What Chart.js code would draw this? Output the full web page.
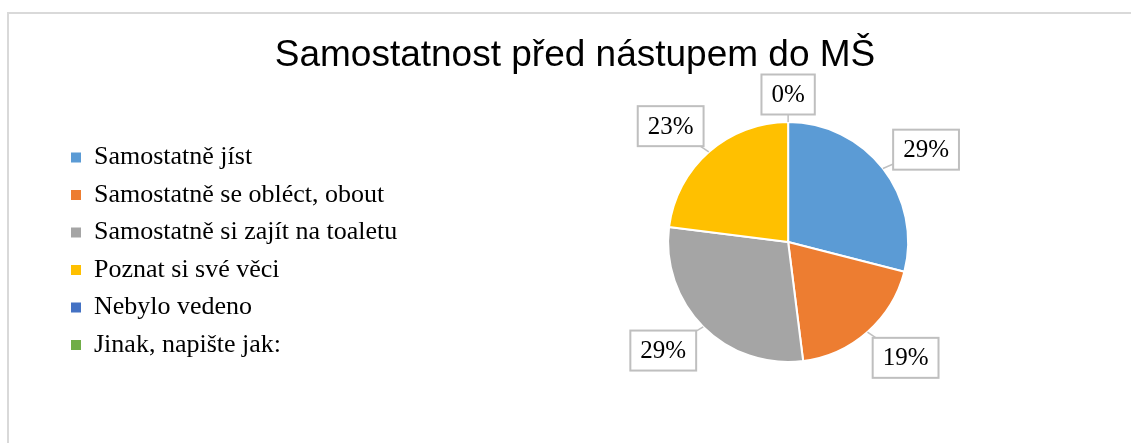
<!DOCTYPE html>
<html>
<head>
<meta charset="utf-8">
<script src="https://cdn.jsdelivr.net/npm/chart.js@4"></script>
<style>
  body { margin: 0; background: #fff; overflow: hidden; }
  #frame { position: absolute; left: 7px; top: 12px; width: 1200px; height: 500px;
           border-left: 2px solid #d9d9d9; border-top: 2px solid #d9d9d9; }
  #chart { position: absolute; left: 0; top: 0; }
</style>
</head>
<body>
<div id="frame"></div>
<canvas id="chart" width="1131" height="443"></canvas>
<script>
const title = 'Samostatnost před nástupem do MŠ';
const labels = [
  'Samostatně jíst',
  'Samostatně se obléct, obout',
  'Samostatně si zajít na toaletu',
  'Poznat si své věci',
  'Nebylo vedeno',
  'Jinak, napište jak:'
];
// percent of answers
const values = [29, 19, 29, 23, 0, null];
const colors = ['#5b9bd5', '#ed7d31', '#a5a5a5', '#ffc000', '#4472c4', '#70ad47'];

// boxed percentage labels just outside each slice
const calloutLabels = {
  id: 'calloutLabels',
  afterDatasetsDraw(chart) {
    const ctx = chart.ctx;
    const meta = chart.getDatasetMeta(0);
    ctx.save();
    ctx.font = '25px "Liberation Serif"';
    meta.data.forEach((arc, i) => {
      const v = values[i];
      if (v === null) return;
      const p = arc.getProps(['x', 'y', 'startAngle', 'endAngle', 'outerRadius'], true);
      let mid = (p.startAngle + p.endAngle) / 2;
      // nudge labels a little toward the horizontal, like excel does
      const c = Math.cos(mid), s = Math.sin(mid);
      if (Math.abs(c) > 0.01) mid -= Math.sign(c * s) * 4 * Math.PI / 180;
      const ux = Math.cos(mid), uy = Math.sin(mid);
      const text = v + '%';
      const hw = ctx.measureText(text).width / 2 + 10, hh = 20;
      const ext = Math.abs(ux) * hw + Math.abs(uy) * hh;
      const d = p.outerRadius + 7.5 + ext;
      const cx = p.x + ux * d, cy = p.y + uy * d;

      ctx.strokeStyle = '#bfbfbf';
      ctx.lineWidth = 1.5;
      ctx.beginPath();
      ctx.moveTo(p.x + c * p.outerRadius, p.y + s * p.outerRadius);
      ctx.lineTo(cx, cy);
      ctx.stroke();

      ctx.fillStyle = '#fff';
      ctx.fillRect(cx - hw, cy - hh, hw * 2, hh * 2);
      ctx.lineWidth = 2;
      ctx.strokeRect(cx - hw, cy - hh, hw * 2, hh * 2);

      ctx.fillStyle = '#000';
      ctx.textAlign = 'center';
      ctx.textBaseline = 'middle';
      ctx.fillText(text, cx, cy + 1);
    });
    ctx.restore();
  }
};

new Chart(document.getElementById('chart'), {
  type: 'pie',
  data: {
    labels: labels,
    datasets: [{
      data: values,
      backgroundColor: colors,
      borderColor: '#ffffff',
      borderWidth: 2,
      radius: 120
    }]
  },
  options: {
    responsive: false,
    animation: false,
    layout: { padding: { left: 59.5, right: 40.5, top: 0, bottom: 37.4 } },
    plugins: {
      title: {
        display: true,
        text: title,
        color: '#000',
        font: { family: 'Liberation Sans', size: 37, weight: 'normal', lineHeight: 1.2 },
        padding: { top: 34, bottom: 0 }
      },
      // empty spacer between legend and pie
      subtitle: {
        display: true,
        text: '',
        position: 'left',
        weight: 500,
        font: { size: 10, lineHeight: 1 },
        padding: { top: 0, bottom: 68.5 }
      },
      legend: {
        position: 'left',
        align: 'start',
        maxWidth: 450,
        title: { display: true, text: '', font: { size: 10, lineHeight: 13.3 }, padding: 0 },
        labels: {
          color: '#000',
          font: { family: 'Liberation Serif', size: 26 },
          boxWidth: 10,
          boxHeight: 10,
          padding: 11.5,
          generateLabels(chart) {
            return Chart.overrides.pie.plugins.legend.labels.generateLabels(chart)
              .map(l => Object.assign(l, { lineWidth: 0 }));
          }
        }
      },
      tooltip: { enabled: false }
    }
  },
  plugins: [calloutLabels]
});
</script>
</body>
</html>
